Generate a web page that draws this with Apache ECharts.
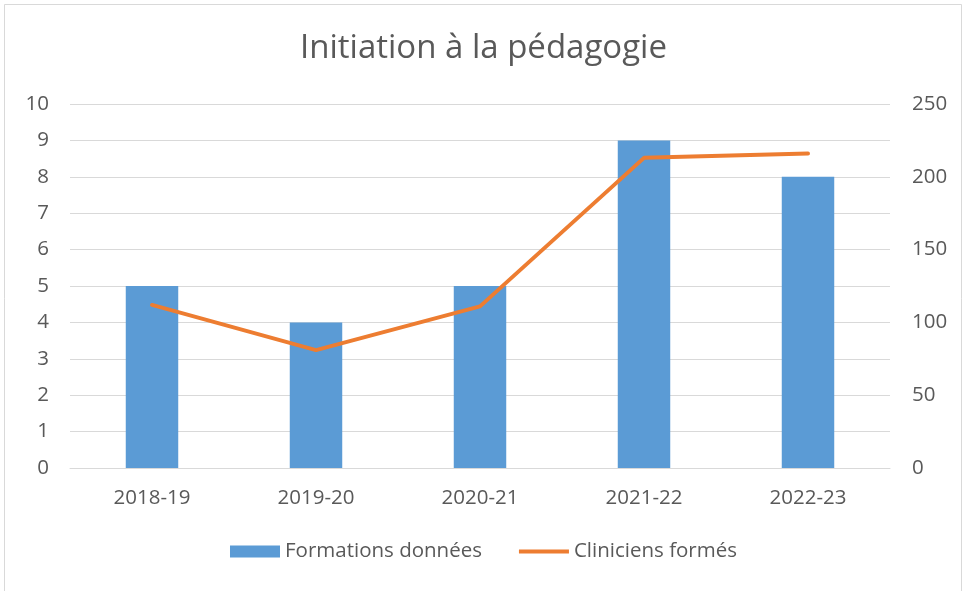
<!DOCTYPE html>
<html><head><meta charset="utf-8">
<script src="https://cdn.jsdelivr.net/npm/echarts@6/dist/echarts.min.js"></script>
<style>html,body{margin:0;padding:0;background:#fff}#c{width:967px;height:591px}</style>
</head><body><div id="c"></div>
<script>
const categories = ['2018-19','2019-20','2020-21','2021-22','2022-23'];
const formations = [5,4,5,9,8];
const cliniciens = [112,81,111,213,216];
const leftTicks = [0,10,1];
const rightTicks = [0,250,50];

const chart = echarts.init(document.getElementById('c'));
const font = '"Open Sans", "Liberation Sans", sans-serif';
chart.setOption({
  animation:false,
  backgroundColor:'#fff',
  graphic:[{type:'rect',shape:{x:4.5,y:4.5,width:957,height:600},style:{fill:'none',stroke:'#d9d9d9',lineWidth:1},silent:true}],
  title:{text:'Initiation à la pédagogie',left:'center',top:27,textStyle:{fontFamily:font,fontSize:33,fontWeight:'normal',color:'#595959'}},
  grid:{left:70,right:77,top:104,bottom:123,containLabel:false},
  legend:{bottom:24,left:'center',itemGap:37,itemWidth:50,itemHeight:12,textStyle:{fontFamily:font,fontSize:20.5,color:'#595959'},
    data:[{name:'Formations données',icon:'rect'},{name:'Cliniciens formés',icon:'path://M0,0 L50,0 L50,4 L0,4 Z'}]},
  xAxis:{type:'category',data:categories,axisTick:{show:false},axisLine:{lineStyle:{color:'#d9d9d9'}},
    axisLabel:{fontFamily:font,fontSize:20.5,color:'#595959',margin:20}},
  yAxis:[
    {type:'value',min:leftTicks[0],max:leftTicks[1],interval:leftTicks[2],axisLine:{show:false},axisTick:{show:false},
     splitLine:{lineStyle:{color:'#d9d9d9'}},axisLabel:{fontFamily:font,fontSize:20.5,color:'#595959',margin:21}},
    {type:'value',min:rightTicks[0],max:rightTicks[1],interval:rightTicks[2],axisLine:{show:false},axisTick:{show:false},
     splitLine:{show:false},axisLabel:{fontFamily:font,fontSize:20.5,color:'#595959',margin:22}}
  ],
  series:[
    {name:'Formations données',type:'bar',data:formations,barWidth:'32%',itemStyle:{color:'#5b9bd5'}},
    {name:'Cliniciens formés',type:'line',yAxisIndex:1,data:cliniciens,symbol:'none',lineStyle:{color:'#ed7d31',width:4,cap:'round'},itemStyle:{color:'#ed7d31'}}
  ]
});
</script></body></html>
